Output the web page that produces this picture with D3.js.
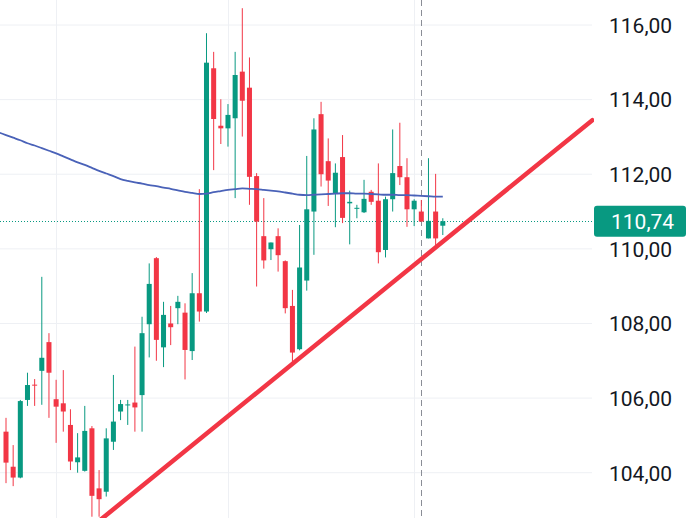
<!DOCTYPE html>
<html>
<head>
<meta charset="utf-8">
<script src="https://cdn.jsdelivr.net/npm/d3@7"></script>
<style>
  html, body { margin: 0; padding: 0; background: #ffffff; }
  svg { display: block; }
</style>
</head>
<body>
<svg id="chart" width="688" height="518"></svg>
<script>
// Daily candles (index 1..62), prices
const opens  = [105.10,104.16,103.87,105.95,106.36,106.73,107.50,105.97,105.86,105.28,
                104.28,104.05,105.19,103.58,103.49,104.83,105.64,105.81,105.88,106.08,
                107.98,109.75,107.36,108.00,108.41,108.29,107.26,108.81,108.32,114.84,
                113.30,113.23,113.50,114.75,114.32,111.95,110.34,109.99,110.34,109.67,
                108.47,107.31,109.15,111.00,113.61,112.35,111.49,112.46,111.22,111.08,
                110.98,111.53,111.29,109.97,111.33,112.22,111.92,111.06,111.00,110.28,
                111.00,110.62];
const highs  = [105.47,104.74,105.95,106.68,106.51,109.25,107.74,106.49,106.75,105.70,
                105.06,105.79,105.25,104.07,105.19,106.62,105.95,105.95,107.38,108.18,
                109.61,109.78,108.58,108.47,108.74,108.54,109.35,111.60,115.78,115.28,
                114.01,113.88,115.28,116.45,115.13,112.03,111.36,110.17,110.55,109.69,
                108.90,110.64,112.49,113.50,113.94,112.96,112.29,113.05,111.56,111.18,
                111.85,111.58,112.29,111.40,113.20,113.38,112.43,111.33,111.31,112.43,
                112.01,110.82];
const lows   = [103.72,103.64,103.85,105.79,105.79,105.82,105.47,104.80,105.10,104.07,
                104.00,104.03,102.82,102.82,103.36,104.61,105.41,105.28,105.10,105.10,
                107.09,107.00,106.83,107.42,107.98,106.50,107.02,108.05,108.28,112.11,
                112.81,112.74,111.36,113.01,111.18,108.99,109.47,109.70,109.39,108.27,
                106.95,107.28,108.88,109.84,111.67,111.15,110.58,110.69,110.12,110.82,
                110.96,111.18,109.61,109.77,111.00,111.71,110.59,110.61,110.73,110.28,
                110.10,110.37];
const closes = [104.27,103.87,105.92,106.35,106.34,107.08,106.68,105.77,105.64,104.30,
                104.41,105.12,103.38,103.29,104.92,105.37,105.84,105.83,105.75,107.74,
                109.06,107.56,108.23,107.90,108.58,107.29,108.81,108.32,114.99,113.48,
                113.23,113.59,114.66,113.97,111.93,110.73,109.69,110.17,109.83,108.41,
                107.22,109.50,111.06,113.20,112.00,111.83,112.04,110.83,111.26,111.10,
                111.34,111.26,109.91,111.33,112.03,111.92,111.06,111.29,110.73,110.75,
                110.28,110.74];

// Moving average, index 0..62
const maValues = [113.12,113.05,112.98,112.91,112.83,112.77,112.70,112.63,112.56,112.48,
                  112.40,112.32,112.25,112.17,112.09,112.02,111.95,111.87,111.82,111.78,
                  111.75,111.71,111.68,111.64,111.61,111.57,111.53,111.50,111.47,111.48,
                  111.52,111.55,111.58,111.60,111.62,111.61,111.60,111.58,111.56,111.54,
                  111.51,111.48,111.45,111.44,111.45,111.46,111.47,111.48,111.49,111.49,
                  111.48,111.48,111.47,111.46,111.45,111.45,111.44,111.44,111.43,111.42,
                  111.41,111.40,111.40];

// Price axis ticks
const priceTicks = [104, 106, 108, 110, 112, 114, 116];
// Month separators (candle index)
const monthStarts = [8, 32, 58];
// Crosshair candle
const crossIndex = 59;
// Last price
const lastPrice = 110.74;
// Support trend line anchors: [index, price]
const trendStart = [13.5, 102.63];
const trendEnd   = [82.88, 113.45];

const W = 688, H = 518;
const plotRight = 592;
const UP = "#089981", DOWN = "#f23645";

const svg = d3.select("#chart");

const x = d3.scaleLinear().domain([1, 62]).range([6, 442.8]);
const y = d3.scaleLinear().domain([104, 116]).range([472.7, 25]);

const fmt = v => d3.format(".2f")(v).replace(".", ",");

svg.append("defs").append("clipPath").attr("id", "plot")
  .append("rect").attr("x", 0).attr("y", 0).attr("width", plotRight + 2).attr("height", H);

// Horizontal grid
svg.append("g").selectAll("line").data(priceTicks).join("line")
  .attr("x1", 0).attr("x2", plotRight)
  .attr("y1", d => y(d)).attr("y2", d => y(d))
  .attr("stroke", "#eef0f4").attr("stroke-width", 1);

// Vertical grid
svg.append("g").selectAll("line").data(monthStarts).join("line")
  .attr("x1", d => Math.round(x(d)) + 0.5).attr("x2", d => Math.round(x(d)) + 0.5)
  .attr("y1", 0).attr("y2", H)
  .attr("stroke", "#eef0f4").attr("stroke-width", 1);

const plot = svg.append("g").attr("clip-path", "url(#plot)");

// Crosshair
plot.append("line")
  .attr("x1", Math.round(x(crossIndex)) + 0.5).attr("x2", Math.round(x(crossIndex)) + 0.5)
  .attr("y1", 0).attr("y2", H)
  .attr("stroke", "#8a8d96").attr("stroke-width", 1).attr("stroke-dasharray", "6,4");

// Last price line
plot.append("line")
  .attr("x1", 0).attr("x2", plotRight)
  .attr("y1", Math.round(y(lastPrice)) + 0.5).attr("y2", Math.round(y(lastPrice)) + 0.5)
  .attr("stroke", UP).attr("stroke-width", 1).attr("stroke-dasharray", "1,2");

// Candles
const candles = opens.map((o, k) => ({ i: k + 1, o, h: highs[k], l: lows[k], c: closes[k] }));
const bodyW = (x(2) - x(1)) * 0.7;

const cg = plot.append("g").selectAll("g").data(candles).join("g");
cg.append("line")
  .attr("x1", d => x(d.i)).attr("x2", d => x(d.i))
  .attr("y1", d => y(d.h)).attr("y2", d => y(d.l))
  .attr("stroke", d => d.c >= d.o ? UP : DOWN).attr("stroke-width", 1);
cg.append("rect")
  .attr("x", d => x(d.i) - bodyW / 2)
  .attr("width", bodyW)
  .attr("y", d => y(Math.max(d.o, d.c)))
  .attr("height", d => Math.max(1, Math.abs(y(d.o) - y(d.c))))
  .attr("fill", d => d.c >= d.o ? UP : DOWN);

// Moving average
plot.append("path")
  .datum(maValues)
  .attr("d", d3.line().x((d, k) => x(k)).y(d => y(d)).curve(d3.curveMonotoneX))
  .attr("fill", "none").attr("stroke", "#4a62b8").attr("stroke-width", 1.8);

// Trend line
plot.append("line")
  .attr("x1", x(trendStart[0])).attr("y1", y(trendStart[1]))
  .attr("x2", x(trendEnd[0])).attr("y2", y(trendEnd[1]))
  .attr("stroke", DOWN).attr("stroke-width", 4.5).attr("stroke-linecap", "round");

// Price axis
const axis = d3.axisRight(y).tickValues(priceTicks).tickFormat(fmt).tickSize(0).tickPadding(0);
const ag = svg.append("g").attr("transform", "translate(609,0)").call(axis);
ag.select(".domain").remove();
ag.selectAll("text")
  .attr("font-family", "Roboto, sans-serif").attr("font-size", 21)
  .attr("fill", "#131722").attr("dy", "0.35em");

// Last price label
const lbl = svg.append("g");
lbl.append("rect")
  .attr("x", 594).attr("y", y(lastPrice) - 15.5).attr("width", 92).attr("height", 31)
  .attr("rx", 3).attr("fill", UP);
lbl.append("text")
  .attr("x", 611).attr("y", y(lastPrice)).attr("dy", "0.35em")
  .attr("font-family", "Roboto, sans-serif").attr("font-size", 21)
  .attr("fill", "#ffffff").text(fmt(lastPrice));
</script>
</body>
</html>
